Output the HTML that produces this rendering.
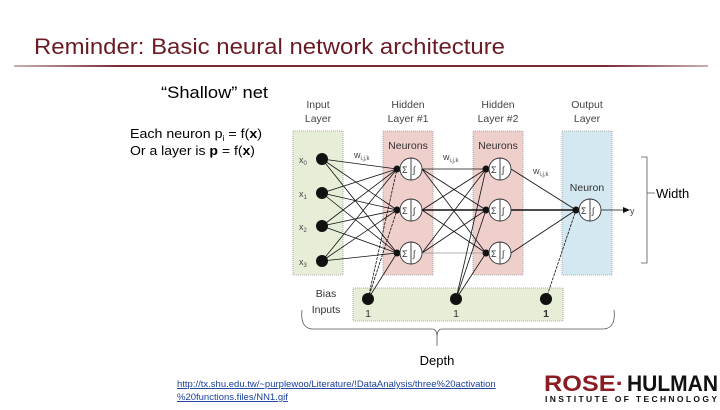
<!DOCTYPE html>
<html><head><style>
body{margin:0;width:720px;height:405px;background:#fff;overflow:hidden;font-family:"Liberation Sans",sans-serif}
</style></head><body>
<svg width="720" height="405" xmlns="http://www.w3.org/2000/svg" font-family="Liberation Sans, sans-serif">
<defs><linearGradient id="g" x1="0" x2="1"><stop offset="0" stop-color="#c9b0b3"/><stop offset="0.15" stop-color="#7a2a33"/><stop offset="0.85" stop-color="#7a2a33"/><stop offset="1" stop-color="#c9b0b3"/></linearGradient></defs>
<text x="34" y="54" font-size="22" fill="#6b1b24" textLength="471" lengthAdjust="spacingAndGlyphs">Reminder: Basic neural network architecture</text>
<rect x="14" y="65" width="694" height="2" fill="url(#g)"/>
<text x="161" y="98" font-size="17" fill="#000" textLength="107" lengthAdjust="spacingAndGlyphs">“Shallow” net</text>
<text x="130" y="138" font-size="13" textLength="132" lengthAdjust="spacingAndGlyphs">Each neuron p<tspan font-size="8" dy="3">i</tspan><tspan dy="-3"> = f(</tspan><tspan font-weight="bold">x</tspan>)</text>
<text x="130" y="155" font-size="13" textLength="125" lengthAdjust="spacingAndGlyphs">Or a layer is <tspan font-weight="bold">p</tspan> = f(<tspan font-weight="bold">x</tspan>)</text>
<g font-size="10.5" fill="#444" text-anchor="middle">
<text x="318" y="108">Input</text><text x="318" y="122">Layer</text>
<text x="408" y="108">Hidden</text><text x="408" y="122">Layer #1</text>
<text x="498" y="108">Hidden</text><text x="498" y="122">Layer #2</text>
<text x="587" y="108">Output</text><text x="587" y="122">Layer</text>
</g>
<g stroke="#999" stroke-dasharray="1,1" stroke-width="0.8">
<rect x="293" y="131" width="50" height="144" fill="#e6eed8"/>
<rect x="383" y="131" width="50" height="144" fill="#efcfcc"/>
<rect x="473" y="131" width="50" height="144" fill="#efcfcc"/>
<rect x="562" y="131" width="50" height="144" fill="#d3e8f0"/>
<rect x="353" y="288" width="210" height="33" fill="#e6eed8"/>
</g>
<g font-size="10.5" fill="#333" text-anchor="middle">
<text x="408" y="149">Neurons</text><text x="498" y="149">Neurons</text><text x="587" y="191">Neuron</text>
<text x="326" y="297">Bias</text><text x="326" y="313">Inputs</text>
<text x="368" y="317">1</text><text x="456" y="317">1</text><text x="546" y="317" font-weight="bold">1</text>
</g>
<g font-size="9" fill="#444">
<text x="299" y="163">x<tspan font-size="6" dy="2">0</tspan></text>
<text x="299" y="197">x<tspan font-size="6" dy="2">1</tspan></text>
<text x="299" y="230">x<tspan font-size="6" dy="2">2</tspan></text>
<text x="299" y="265">x<tspan font-size="6" dy="2">3</tspan></text>
<text x="354" y="158">w<tspan font-size="6" dy="2">i,j,k</tspan></text>
<text x="443" y="160">w<tspan font-size="6" dy="2">i,j,k</tspan></text>
<text x="533" y="174">w<tspan font-size="6" dy="2">i,j,k</tspan></text>
<text x="630" y="214">y</text>
</g>
<g stroke="#111" stroke-width="0.8">
<line x1="322" y1="159" x2="397" y2="169"/><line x1="322" y1="159" x2="397" y2="210"/><line x1="322" y1="159" x2="397" y2="253"/>
<line x1="322" y1="193" x2="397" y2="169"/><line x1="322" y1="193" x2="397" y2="210"/><line x1="322" y1="193" x2="397" y2="253"/>
<line x1="322" y1="226" x2="397" y2="169"/><line x1="322" y1="226" x2="397" y2="210"/><line x1="322" y1="226" x2="397" y2="253"/>
<line x1="322" y1="261" x2="397" y2="169"/><line x1="322" y1="261" x2="397" y2="210"/><line x1="322" y1="261" x2="397" y2="253"/>
<line x1="422" y1="169" x2="486" y2="169"/><line x1="422" y1="169" x2="486" y2="210"/><line x1="422" y1="169" x2="486" y2="253"/>
<line x1="422" y1="210" x2="486" y2="169"/><line x1="422" y1="210" x2="486" y2="210" stroke-width="1.5"/><line x1="422" y1="210" x2="486" y2="253"/>
<line x1="422" y1="253" x2="486" y2="169"/><line x1="422" y1="253" x2="486" y2="210"/><line x1="422" y1="253" x2="486" y2="253" stroke="#999"/>
<line x1="511" y1="169" x2="576" y2="210"/><line x1="511" y1="210" x2="576" y2="210" stroke-width="1.5"/><line x1="511" y1="253" x2="576" y2="210"/>
<line x1="368" y1="299" x2="397" y2="169" stroke-dasharray="3,1"/><line x1="368" y1="299" x2="397" y2="210" stroke-dasharray="3,1"/><line x1="368" y1="299" x2="397" y2="253"/>
<line x1="456" y1="299" x2="486" y2="169"/><line x1="456" y1="299" x2="486" y2="210"/><line x1="456" y1="299" x2="486" y2="253"/>
<line x1="546" y1="299" x2="576" y2="210" stroke-dasharray="3,1"/>
<line x1="601" y1="210" x2="627" y2="210"/>
</g>
<polygon points="630,210 623,207 623,213" fill="#111"/>
<g fill="#111">
<circle cx="322" cy="159" r="6"/><circle cx="322" cy="193" r="6"/><circle cx="322" cy="226" r="6"/><circle cx="322" cy="261" r="6"/>
<circle cx="368" cy="299" r="6"/><circle cx="456" cy="299" r="6"/><circle cx="546" cy="299" r="6"/>
<circle cx="397" cy="169" r="3.5"/><circle cx="397" cy="210" r="3.5"/><circle cx="397" cy="253" r="3.5"/>
<circle cx="486" cy="169" r="3.5"/><circle cx="486" cy="210" r="3.5"/><circle cx="486" cy="253" r="3.5"/>
<circle cx="576" cy="210" r="3.5"/>
</g>
<g stroke="#333" stroke-width="0.9" fill="#fff">
<circle cx="411" cy="169" r="11"/><circle cx="411" cy="210" r="11"/><circle cx="411" cy="253" r="11"/>
<circle cx="500" cy="169" r="11"/><circle cx="500" cy="210" r="11"/><circle cx="500" cy="253" r="11"/>
<circle cx="590" cy="210" r="11"/>
<line x1="411" y1="158" x2="411" y2="180"/><line x1="411" y1="199" x2="411" y2="221"/><line x1="411" y1="242" x2="411" y2="264"/>
<line x1="500" y1="158" x2="500" y2="180"/><line x1="500" y1="199" x2="500" y2="221"/><line x1="500" y1="242" x2="500" y2="264"/>
<line x1="590" y1="199" x2="590" y2="221"/>
</g>
<g font-size="9" fill="#333">
<text x="402" y="173">Σ</text><text x="413" y="173">∫</text>
<text x="402" y="214">Σ</text><text x="413" y="214">∫</text>
<text x="402" y="257">Σ</text><text x="413" y="257">∫</text>
<text x="491" y="173">Σ</text><text x="502" y="173">∫</text>
<text x="491" y="214">Σ</text><text x="502" y="214">∫</text>
<text x="491" y="257">Σ</text><text x="502" y="257">∫</text>
<text x="581" y="214">Σ</text><text x="592" y="214">∫</text>
</g>
<path d="M641 157 H647 V263 H641 M647 193 H655" stroke="#555" fill="none" stroke-width="0.8"/>
<text x="656" y="198" font-size="13">Width</text>
<path d="M302 310 Q300 328 312 329 H432 Q437 329 437 337 Q437 329 442 329 H604 Q616 328 614 310" stroke="#555" fill="none" stroke-width="0.8"/>
<line x1="437" y1="337" x2="437" y2="346" stroke="#555" stroke-width="0.8"/>
<text x="437" y="365" font-size="13" text-anchor="middle">Depth</text>
<g font-size="9.5" fill="#1a3fa0" text-decoration="underline">
<text x="177" y="387">http://tx.shu.edu.tw/~purplewoo/Literature/!DataAnalysis/three%20activation</text>
<text x="177" y="400">%20functions.files/NN1.gif</text>
</g>
<text x="544" y="391" font-size="22" font-weight="bold" fill="#8b1c22" textLength="80" lengthAdjust="spacingAndGlyphs">ROSE·</text>
<text x="627" y="391" font-size="22" font-weight="bold" fill="#111" textLength="91" lengthAdjust="spacingAndGlyphs">HULMAN</text>
<text x="545" y="402" font-size="8.5" font-weight="bold" fill="#111" textLength="172" lengthAdjust="spacing">INSTITUTE OF TECHNOLOGY</text>
</svg>
</body></html>
